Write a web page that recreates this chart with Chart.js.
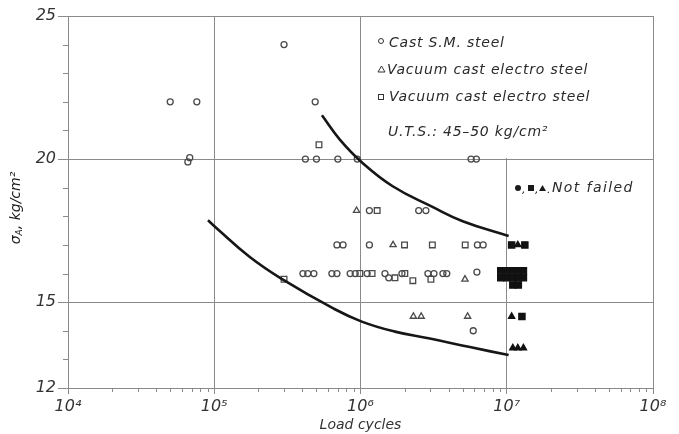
<!DOCTYPE html>
<html>
<head>
<meta charset="utf-8">
<script src="https://cdn.jsdelivr.net/npm/chart.js@4.4.1/dist/chart.umd.min.js"></script>
<style>
  body { margin: 0; background: #fff; }
  #wrap { width: 679px; height: 434px; }
</style>
</head>
<body>
<div id="wrap"><canvas id="fatigueChart" width="679" height="434"></canvas></div>
<script>
// Axis ticks
const xTicks = [1e4, 1e5, 1e6, 1e7, 1e8];
const yTicks = [12, 15, 20, 25];
const yMinor = [13, 14, 16, 17, 18, 19, 21, 22, 23, 24];
const xMinorFactors = [2, 3, 4, 5, 6, 7, 8, 9];

// Cast S.M. steel (open circles)
const castCycles = [5e4, 7.6e4, 6.8e4, 6.6e4, 3e5, 4.9e5,
  4.2e5, 5e5, 7e5, 9.5e5, 5.7e6, 6.2e6,
  1.15e6, 2.5e6, 2.8e6,
  6.9e5, 7.6e5, 1.15e6, 6.3e6, 6.9e6,
  4.04e5, 4.36e5, 4.8e5, 6.37e5, 6.9e5, 8.5e5, 9.2e5, 1.11e6, 1.47e6, 1.56e6, 1.92e6,
  2.89e6, 3.18e6, 3.66e6, 3.89e6, 6.25e6,
  5.9e6];
const castStress = [22, 22, 20.05, 19.9, 24, 22,
  20, 20, 20, 20, 20, 20,
  18.2, 18.2, 18.2,
  17, 17, 17, 17, 17,
  16, 16, 16, 16, 16, 16, 16, 16, 16, 15.85, 16,
  16, 16, 16, 16, 16.05,
  14];

// Vacuum cast electro steel (open triangles)
const vacTriCycles = [9.4e5, 1.67e6, 5.18e6, 2.3e6, 2.6e6, 5.4e6];
const vacTriStress = [18.2, 17, 15.8, 14.5, 14.5, 14.5];

// Vacuum cast electro steel (open squares)
const vacSqCycles = [5.2e5, 3e5, 1.3e6, 2e6, 3.1e6, 5.2e6, 9.9e5, 1.2e6, 1.72e6, 2.01e6, 2.28e6, 3.03e6];
const vacSqStress = [20.5, 15.8, 18.2, 17, 17, 17, 16, 16, 15.85, 16, 15.75, 15.8];

// Not failed (filled)
const runoutSqCycles = [1.08e7, 1.33e7,
  9.1e6, 1e7, 1.1e7, 1.2e7, 1.3e7,
  9.1e6, 1e7, 1.1e7, 1.2e7, 1.3e7,
  1.1e7, 1.2e7, 1.27e7];
const runoutSqStress = [17, 17,
  16.1, 16.1, 16.1, 16.1, 16.1,
  15.85, 15.85, 15.85, 15.85, 15.85,
  15.6, 15.6, 14.5];
const runoutTriCycles = [1.19e7, 1.08e7, 1.1e7, 1.19e7, 1.3e7];
const runoutTriStress = [17, 14.5, 13.4, 13.4, 13.4];

// Fitted curves
const upperCycles = [5.45e5, 7.2e5, 1.02e6, 1.66e6, 3.13e6, 5.0e6, 1.03e7];
const upperStress = [21.53, 20.69, 19.89, 19.05, 18.32, 17.83, 17.31];
const lowerCycles = [9.06e4, 1.02e5, 1.75e5, 2.99e5, 6.47e5, 1.02e6, 1.72e6, 2.98e6, 5.6e6, 1.03e7];
const lowerStress = [17.86, 17.62, 16.58, 15.77, 14.79, 14.32, 13.97, 13.73, 13.43, 13.15];

const pairs = (xs, ys) => xs.map((x, i) => ({ x: x, y: ys[i] }));
const sup = { '4': '\u2074', '5': '\u2075', '6': '\u2076', '7': '\u2077', '8': '\u2078' };
const FONT = '"DejaVu Sans", sans-serif';
const GRID = '#8a8a8a';
const MARK = '#4a4a4a';

const decorPlugin = {
  id: 'decor',
  beforeDatasetsDraw(chart) {
    const { ctx, scales: { x, y } } = chart;
    // legend panel covers the 10^7 grid line above 20
    ctx.save();
    ctx.fillStyle = '#fff';
    ctx.fillRect(x.getPixelForValue(1e6) + 1, y.getPixelForValue(25) + 1,
      x.getPixelForValue(1e8) - x.getPixelForValue(1e6) - 2,
      y.getPixelForValue(20) - y.getPixelForValue(25) - 2);

    // minor ticks
    ctx.strokeStyle = GRID;
    ctx.lineWidth = 1;
    ctx.beginPath();
    yMinor.forEach(v => {
      const py = Math.round(y.getPixelForValue(v)) + 0.5;
      ctx.moveTo(x.left - 5, py);
      ctx.lineTo(x.left, py);
    });
    for (let d = 1e4; d < 1e8; d *= 10) {
      xMinorFactors.forEach(f => {
        const px = Math.round(x.getPixelForValue(d * f)) + 0.5;
        ctx.moveTo(px, y.bottom);
        ctx.lineTo(px, y.bottom + 4);
      });
    }
    ctx.stroke();
    ctx.restore();
  },
  afterDraw(chart) {
    const { ctx } = chart;
    ctx.save();
    ctx.fillStyle = '#2a2a2a';
    ctx.font = 'italic 14px ' + FONT;
    ctx.letterSpacing = '0.8px';
    ctx.textBaseline = 'middle';
    ctx.fillText('Cast S.M. steel', 389, 43);
    ctx.fillText('Vacuum cast electro steel', 387, 70);
    ctx.fillText('Vacuum cast electro steel', 389, 97);
    ctx.fillText('U.T.S.: 45\u201350 kg/cm\u00b2', 388, 132);
    ctx.letterSpacing = '1.4px';
    ctx.fillText('Not failed', 552, 188);
    ctx.letterSpacing = '0px';

    // legend symbols
    ctx.strokeStyle = '#333';
    ctx.lineWidth = 1;
    ctx.beginPath();
    ctx.arc(381, 41, 2.5, 0, Math.PI * 2);
    ctx.stroke();
    ctx.beginPath();
    ctx.moveTo(378, 72); ctx.lineTo(381.5, 66); ctx.lineTo(385, 72); ctx.closePath();
    ctx.stroke();
    ctx.strokeRect(378.5, 94.5, 5, 5);

    ctx.fillStyle = '#1a1a1a';
    ctx.beginPath();
    ctx.arc(518, 188, 3, 0, Math.PI * 2);
    ctx.fill();
    ctx.fillRect(528, 185, 6, 6);
    ctx.beginPath();
    ctx.moveTo(539, 191); ctx.lineTo(542.5, 185); ctx.lineTo(546, 191); ctx.closePath();
    ctx.fill();
    ctx.font = 'italic 11px ' + FONT;
    ctx.fillText(',', 522, 190);
    ctx.fillText(',', 535, 190);
    ctx.fillText('.', 547, 190);

    // y axis title with subscript
    ctx.translate(16, 208);
    ctx.rotate(-Math.PI / 2);
    ctx.textAlign = 'left';
    ctx.font = 'italic 14px ' + FONT;
    const parts = ['\u03c3', 'A', ', kg/cm\u00b2'];
    const w0 = ctx.measureText(parts[0]).width;
    ctx.font = 'italic 9px ' + FONT;
    const w1 = ctx.measureText(parts[1]).width;
    ctx.font = 'italic 14px ' + FONT;
    const w2 = ctx.measureText(parts[2]).width;
    let tx = -(w0 + w1 + w2) / 2;
    ctx.fillText(parts[0], tx, 0);
    tx += w0;
    ctx.font = 'italic 9px ' + FONT;
    ctx.fillText(parts[1], tx, 4);
    tx += w1;
    ctx.font = 'italic 14px ' + FONT;
    ctx.fillText(parts[2], tx, 0);
    ctx.restore();
  }
};

const markerSet = (label, xs, ys, style, filled, radius) => ({
  label: label,
  data: pairs(xs, ys),
  showLine: false,
  pointStyle: style,
  pointRadius: radius,
  pointHoverRadius: radius,
  pointBorderWidth: 1.3,
  pointBorderColor: filled ? '#111' : MARK,
  pointBackgroundColor: filled ? '#111' : 'rgba(0,0,0,0)'
});

const curveSet = (label, xs, ys) => ({
  label: label,
  data: pairs(xs, ys),
  showLine: true,
  borderColor: '#161616',
  borderWidth: 2.6,
  pointRadius: 0,
  tension: 0.45,
  fill: false
});

new Chart(document.getElementById('fatigueChart'), {
  type: 'scatter',
  data: {
    datasets: [
      curveSet('Upper curve', upperCycles, upperStress),
      curveSet('Lower curve', lowerCycles, lowerStress),
      markerSet('Cast S.M. steel', castCycles, castStress, 'circle', false, 3),
      markerSet('Vacuum cast electro steel (triangle)', vacTriCycles, vacTriStress, 'triangle', false, 3.6),
      markerSet('Vacuum cast electro steel (square)', vacSqCycles, vacSqStress, 'rect', false, 4),
      markerSet('Not failed (square)', runoutSqCycles, runoutSqStress, 'rect', true, 4.4),
      markerSet('Not failed (triangle)', runoutTriCycles, runoutTriStress, 'triangle', true, 3.6)
    ]
  },
  options: {
    responsive: false,
    animation: false,
    devicePixelRatio: 1,
    layout: { padding: { top: 16, right: 26, left: 0, bottom: 0 } },
    plugins: { legend: { display: false }, tooltip: { enabled: false } },
    scales: {
      x: {
        type: 'logarithmic',
        min: 1e4,
        max: 1e8,
        afterBuildTicks: s => { s.ticks = xTicks.map(v => ({ value: v })); },
        afterFit: s => { s.height = 46; },
        grid: { color: GRID, lineWidth: 1, tickLength: 6, tickColor: GRID },
        border: { color: GRID, width: 1 },
        ticks: {
          color: '#333',
          padding: 3,
          maxRotation: 0,
          autoSkip: false,
          font: { family: FONT, size: 16, style: 'italic' },
          callback: v => '10' + sup[String(Math.round(Math.log10(v)))]
        },
        title: {
          display: true,
          text: 'Load cycles',
          color: '#333',
          padding: { top: 0, bottom: 0 },
          font: { family: FONT, size: 14, style: 'italic' }
        }
      },
      y: {
        min: 12,
        max: 25,
        afterBuildTicks: s => { s.ticks = yTicks.map(v => ({ value: v })); },
        afterFit: s => { s.width = 68; },
        grid: { color: GRID, lineWidth: 1, tickLength: 10, tickColor: GRID },
        border: { color: GRID, width: 1 },
        ticks: {
          color: '#333',
          padding: 2,
          font: { family: FONT, size: 16, style: 'italic' }
        }
      }
    }
  },
  plugins: [decorPlugin]
});
</script>
</body>
</html>
